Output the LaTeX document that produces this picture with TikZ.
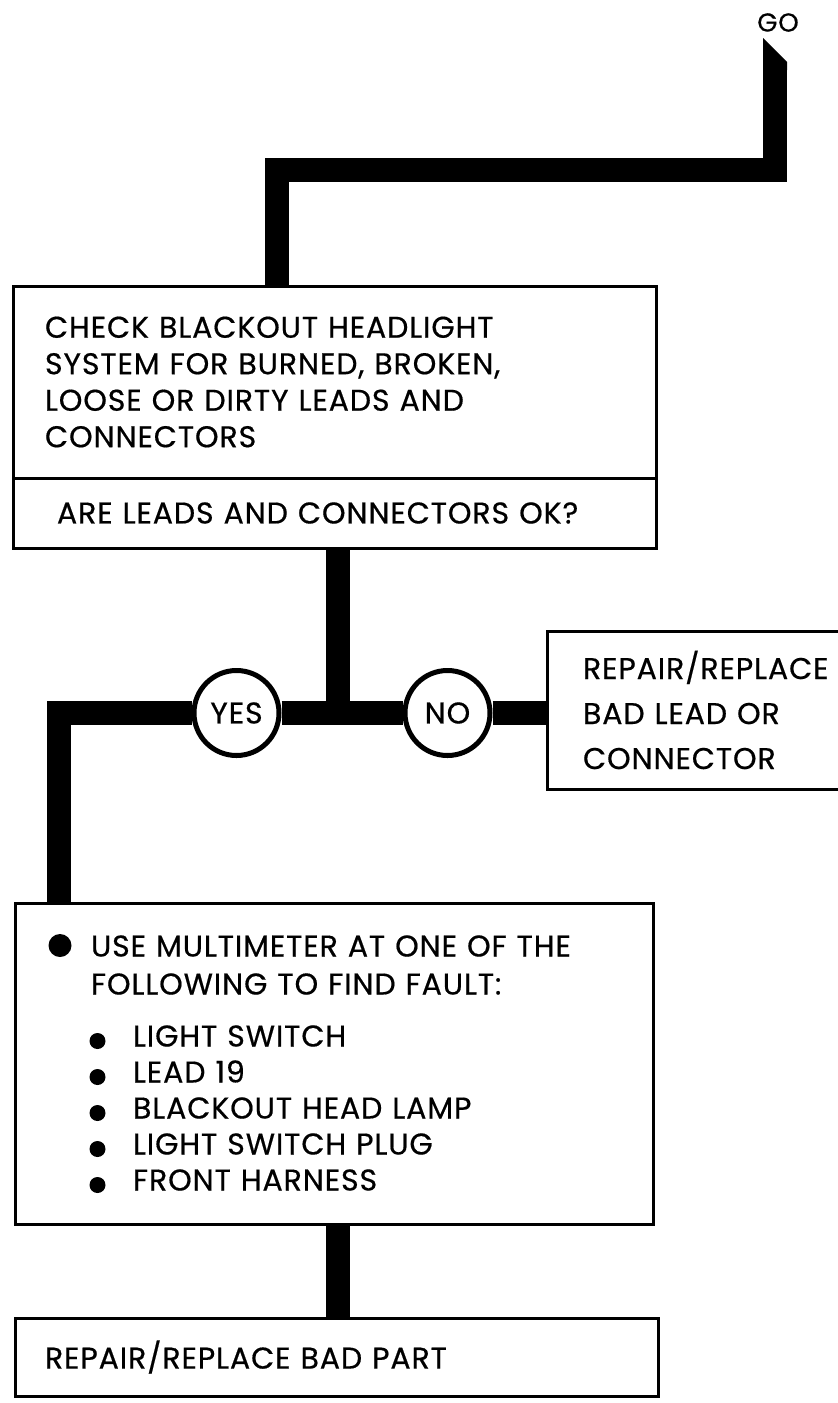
\documentclass[tikz,border=0pt]{standalone}
\usepackage{fontspec}
\setmainfont{Poppins}[LetterSpace=3, FakeBold=0.5]
\usepackage{tikz}
\usetikzlibrary{positioning, calc, backgrounds}

\newcommand{\bodyfont}{\fontsize{15}{18.25}\selectfont}
\newcommand{\leadfont}{\fontsize{15}{22.5}\selectfont}
\newcommand{\listfont}{\fontsize{15}{18}\selectfont}
\newcommand{\bigdot}{\tikz[baseline=0pt]\fill (0,5.5pt) circle[radius=5.75pt];}
\newcommand{\smalldot}{\tikz[baseline=0pt]\fill (0,2.75pt) circle[radius=4pt];}

\begin{document}
\begin{tikzpicture}[x=0.5pt, y=-0.5pt,
    box/.style={draw, rectangle, line width=1.5pt, outer sep=0pt, align=left, font=\bodyfont},
    answer/.style={draw, circle, line width=2.5pt, fill=white, minimum size=42.5pt, inner sep=0pt, font=\bodyfont},
    bar/.style={line width=12pt, line join=miter}]
    \path[use as bounding box] (0,0) rectangle (838,1403);
    \clip (0,0) rectangle (838,1403);

    % 开始
    \node[font=\fontsize{13}{13}\selectfont] (goLabel) at (778,22.5) {GO};
    \coordinate (goTip) at (775,66);
    \coordinate (bend) at (277,170);

    % 检查框
    \node[box, minimum width=321.5pt, minimum height=96pt, text width=289.5pt, inner xsep=16pt] (checkBox) at (334.5,382)
        {CHECK BLACKOUT HEADLIGHT\\SYSTEM FOR BURNED, BROKEN,\\LOOSE OR DIRTY LEADS AND\\CONNECTORS};
    \node[box, minimum width=321.5pt, minimum height=35pt, text width=277.5pt, inner xsep=22pt, below=0pt of checkBox] (askBox)
        {ARE LEADS AND CONNECTORS OK?};

    % 判断
    \coordinate (junction) at (338,713);
    \node[answer] (yesNode) at (236.5,713) {YES};
    \node[answer] (noNode) at (447.5,713) {NO};

    % 修理导线
    \node[box, font=\leadfont, minimum width=161.5pt, minimum height=79pt, text width=125.5pt, inner xsep=18pt] (fixLead) at (708.5,710)
        {REPAIR/REPLACE\\BAD LEAD OR\\CONNECTOR};

    % 万用表
    \node[box, font=\listfont, minimum width=319pt, minimum height=160.5pt, text width=285.5pt, inner xsep=16.75pt] (meterBox) at (334,1063.5)
        {\makebox[21.25pt][l]{\bigdot}USE MULTIMETER AT ONE OF THE\\[1pt]
         \hspace*{21.25pt}FOLLOWING TO FIND FAULT:\\[8pt]
         \hspace*{20.5pt}\makebox[21.75pt][l]{\smalldot}LIGHT SWITCH\\
         \hspace*{20.5pt}\makebox[21.75pt][l]{\smalldot}LEAD 19\\
         \hspace*{20.5pt}\makebox[21.75pt][l]{\smalldot}BLACKOUT HEAD LAMP\\
         \hspace*{20.5pt}\makebox[21.75pt][l]{\smalldot}LIGHT SWITCH PLUG\\
         \hspace*{20.5pt}\makebox[21.75pt][l]{\smalldot}FRONT HARNESS};
    \coordinate (drop) at (59,0);

    % 修理零件
    \node[box, minimum width=321.5pt, minimum height=39pt, text width=291.5pt, inner xsep=15pt] (fixPart) at (336.5,1357)
        {REPAIR/REPLACE BAD PART};

    % 连线
    \begin{scope}[on background layer]
        \fill[white] (0,0) rectangle (838,1403);
        \fill (763,38) -- (787,62) -- (787,70) -- (763,70) -- cycle;
        \draw[bar] (goTip) |- (bend) -- (bend |- checkBox.north);
        \draw[bar] (askBox.south -| junction) -- (junction);
        \draw[bar] (yesNode) -- (noNode);
        \draw[bar] (noNode) -- (noNode -| fixLead.west);
        \draw[bar] (yesNode) -| (drop |- meterBox.north);
        \draw[bar] (meterBox.south -| junction) -- (fixPart.north -| junction);
    \end{scope}
\end{tikzpicture}
\end{document}
